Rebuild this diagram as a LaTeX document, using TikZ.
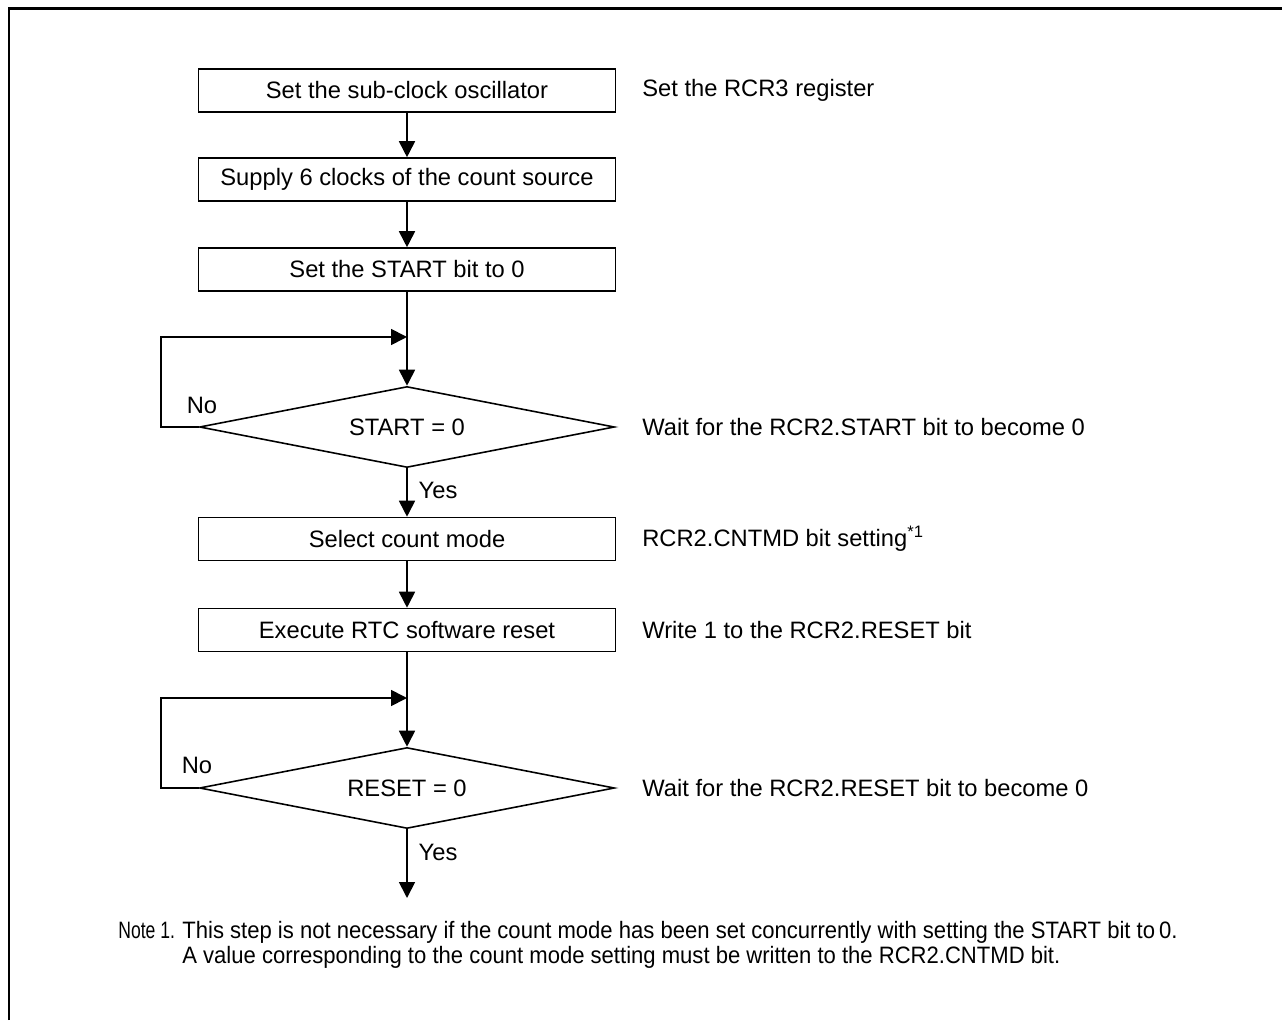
\documentclass[tikz,border=0pt]{standalone}
\usepackage{fontspec}
\setmainfont{Liberation Sans}
\newfontfamily\notefont{Liberation Sans}[FakeStretch=0.93]
\newfontfamily\notetagfont{Liberation Sans}[FakeStretch=0.74]
\usetikzlibrary{shapes.geometric,arrows.meta}

\tikzset{
  proc/.style={draw,line width=0.9pt,minimum width=8.34cm,minimum height=0.86cm,
    inner sep=0pt,font=\fontsize{13.5}{16}\selectfont},
  test/.style={draw,diamond,aspect=5.1,line width=0.9pt,minimum width=8.3cm,
    minimum height=1.62cm,inner sep=0pt,font=\fontsize{13.5}{16}\selectfont},
  side/.style={anchor=west,inner sep=0pt,font=\fontsize{13.5}{16}\selectfont},
  tag/.style={inner sep=0pt,font=\fontsize{13.5}{16}\selectfont},
  note/.style={anchor=base west,inner sep=0pt,font=\notefont\fontsize{13.5}{16}\selectfont},
  flow/.style={line width=1pt,-{Triangle[length=0.32cm,width=0.32cm]}}
}

\begin{document}
\begin{tikzpicture}
  \useasboundingbox (0,0) rectangle (25.64,20.4);
  % frame
  \draw[line width=1.7pt] (0.18,0) -- (0.18,20.22) -- (25.64,20.22);
  % steps
  \node[proc] (osc) at (8.14,18.59) {Set the sub-clock oscillator};
  \node[proc] (clk) at (8.14,16.81) {Supply 6 clocks of the count source};
  \node[proc] (stbit) at (8.14,15.01) {Set the START bit to 0};
  \node[test] (stchk) at (8.14,11.86) {START = 0};
  \node[proc] (mode) at (8.14,9.62) {Select count mode};
  \node[proc] (rst) at (8.14,7.80) {Execute RTC software reset};
  \node[test] (rstchk) at (8.14,4.64) {RESET = 0};
  % loop points
  \coordinate (join1) at (8.14,13.66);
  \coordinate (back1) at (3.22,11.86);
  \coordinate (join2) at (8.14,6.44);
  \coordinate (back2) at (3.22,4.64);
  \coordinate (stop) at (8.14,2.44);
  % arrows
  \draw[flow] (osc) -- (clk);
  \draw[flow] (clk) -- (stbit);
  \draw[flow] (stbit) -- (stchk);
  \draw[flow] (stchk.west) -- (back1) |- (join1);
  \draw[flow] (stchk) -- (mode);
  \draw[flow] (mode) -- (rst);
  \draw[flow] (rst) -- (rstchk);
  \draw[flow] (rstchk.west) -- (back2) |- (join2);
  \draw[flow] (rstchk) -- (stop);
  % yes / no
  \node[tag] (no1) at (4.04,12.3) {No};
  \node[tag] (yes1) at (8.76,10.6) {Yes};
  \node[tag] (no2) at (3.94,5.1) {No};
  \node[tag] (yes2) at (8.76,3.36) {Yes};
  % remarks
  \node[side] (r1) at (12.84,18.59) {Set the RCR3 register};
  \node[side] (r2) at (12.84,11.86) {Wait for the RCR2.START bit to become 0};
  \node[side] (r3) at (12.84,9.62) {RCR2.CNTMD bit setting\textsuperscript{*1}};
  \node[side] (r4) at (12.84,7.80) {Write 1 to the RCR2.RESET bit};
  \node[side] (r5) at (12.84,4.64) {Wait for the RCR2.RESET bit to become 0};
  % note
  \node[note,font=\notetagfont\fontsize{13.5}{16}\selectfont] (nt) at (2.36,1.64) {Note 1.};
  \node[note] (nt1) at (3.64,1.64)
    {This step is not necessary if the count mode has been set concurrently with setting the START bit to\,0.};
  \node[note] (nt2) at (3.64,1.14)
    {A value corresponding to the count mode setting must be written to the RCR2.CNTMD bit.};
\end{tikzpicture}
\end{document}
